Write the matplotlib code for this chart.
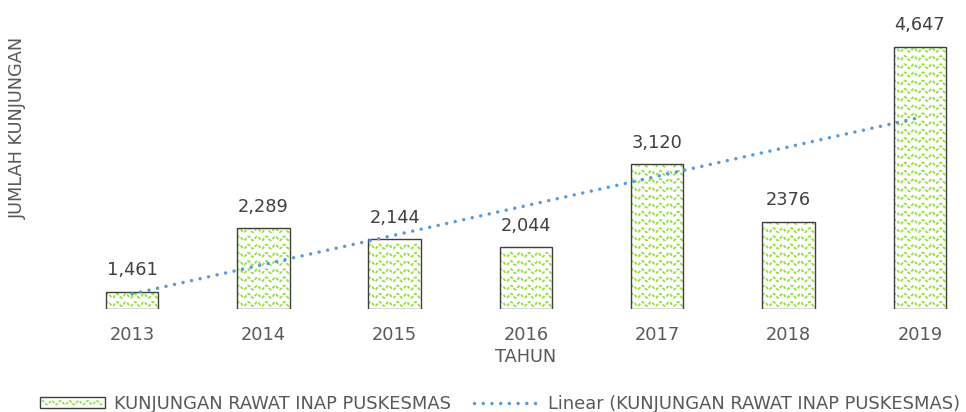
import numpy as np
import matplotlib
matplotlib.use("Agg")
import matplotlib.pyplot as plt
from matplotlib.legend_handler import HandlerBase
from matplotlib.patches import Rectangle
from matplotlib.lines import Line2D

# data
years = ['2013', '2014', '2015', '2016', '2017', '2018', '2019']
visits = [1461, 2289, 2144, 2044, 3120, 2376, 4647]
value_labels = ['1,461', '2,289', '2,144', '2,044', '3,120', '2376', '4,647']

series_name = 'KUNJUNGAN RAWAT INAP PUSKESMAS'
wave_color = '#92E23C'
edge_color = '#3F3F3F'
trend_color = '#5B9BD5'
text_color = '#595959'

fig = plt.figure(figsize=(9.66, 4.12), dpi=100)
ax = fig.add_axes([40 / 966, 103 / 412, 920 / 966, 299 / 412])
ax.set_xlim(-0.7007, 6.306)
ax.set_ylim(1240, 5128)

x = np.arange(len(years))
bars = ax.bar(x, np.array(visits) - 1240, bottom=1240, width=0.4,
              facecolor='white', edgecolor='none', zorder=2)

# wavy fill pattern inside each bar (spacing defined in pixels)
fig.canvas.draw()
bb = ax.get_window_extent()
px_x = bb.width / (ax.get_xlim()[1] - ax.get_xlim()[0])
px_y = bb.height / (ax.get_ylim()[1] - ax.get_ylim()[0])
period, row_gap, amp = 9.0, 8.2, 2.0
for b in bars:
    x0, w = b.get_x(), b.get_width()
    y0, h = b.get_y(), b.get_height()
    xs = np.linspace(x0, x0 + w, 200)
    phase = (xs - x0) * px_x / period * 2 * np.pi
    yy = y0 + 5 / px_y
    while yy < y0 + h:
        ln, = ax.plot(xs, yy + amp * np.sin(phase) / px_y, color=wave_color,
                      lw=1.3, zorder=3, dashes=(1.8, 0.9))
        ln.set_clip_path(b)
        yy += row_gap / px_y
    # outline on top of the pattern
    ax.add_patch(Rectangle((x0, y0), w, h, fill=False, edgecolor=edge_color,
                           lw=1.0, zorder=4))

# linear trend
coef = np.polyfit(x + 1, visits, 1)
trend = np.polyval(coef, x + 1)
ax.plot(x, trend, color=trend_color, lw=2.5, linestyle=(0, (0.01, 2.5)),
        dash_capstyle='round', zorder=5)

for xi, v, lab in zip(x, visits, value_labels):
    ax.annotate(lab, (xi, v), xytext=(0, 15.5), textcoords='offset points',
                ha='center', va='center', fontsize=12.8, color='#404040')

ax.set_xticks(x)
ax.set_xticklabels(years, fontsize=12.8, color=text_color)
ax.tick_params(axis='x', length=0, pad=12)
ax.set_yticks([])
for s in ax.spines.values():
    s.set_visible(False)

fig.text(526 / 966, 1 - 357 / 412, 'TAHUN', ha='center', va='center',
         fontsize=12.8, color=text_color)
fig.text(18 / 966, 1 - 128 / 412, 'JUMLAH KUNJUNGAN', ha='center', va='center',
         rotation=90, fontsize=12.8, color=text_color)


class WaveHandler(HandlerBase):
    def create_artists(self, legend, orig_handle, xdescent, ydescent,
                       width, height, fontsize, trans):
        rect = Rectangle((-xdescent, -ydescent), width, height, facecolor='white',
                         edgecolor=edge_color, lw=1.0, transform=trans, zorder=2)
        xs = np.linspace(-xdescent + 1, -xdescent + width - 1, 120)
        ys = -ydescent + height / 2 + 1.3 * np.sin(xs / 6.5 * 2 * np.pi)
        wave = Line2D(xs, ys, color=wave_color, lw=1.2, dashes=(1.8, 0.9),
                      transform=trans)
        return [rect, wave]


bar_handle = Rectangle((0, 0), 1, 1)
trend_handle = Line2D([], [], color=trend_color, lw=2.5, linestyle=(0, (0.01, 2.5)),
                      dash_capstyle='round')
fig.legend([bar_handle, trend_handle], [series_name, 'Linear (' + series_name + ')'],
           handler_map={Rectangle: WaveHandler()}, loc='center',
           bbox_to_anchor=(500 / 966, 1 - 404 / 412), ncol=2, frameon=False,
           fontsize=12.9, labelcolor=text_color, handlelength=3.6, handleheight=0.6,
           handletextpad=0.5, columnspacing=1.3, borderpad=0)

fig.savefig('out.png', dpi=100)
